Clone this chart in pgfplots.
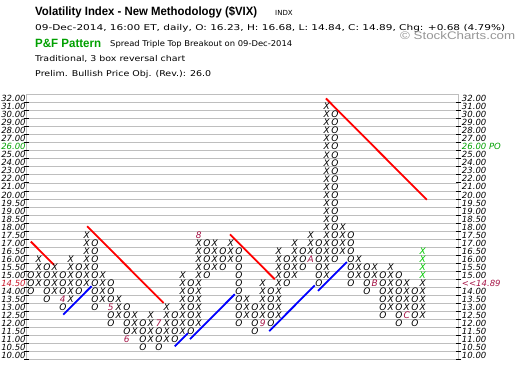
\documentclass[border=0pt]{standalone}
\usepackage{pgfplots}
\pgfplotsset{compat=1.18}
\usepackage{graphicx}
\usepackage{fontspec}
\setmainfont{Liberation Sans}
\newfontfamily\dv{DejaVu Sans}[ItalicFont={DejaVu Sans Oblique}, BoldFont={DejaVu Sans Bold}, BoldItalicFont={DejaVu Sans Bold Oblique}]
\definecolor{gridc}{RGB}{190,190,190}
\definecolor{pfgreen}{RGB}{0,160,0}
\definecolor{xgreen}{RGB}{0,200,0}
\definecolor{month}{RGB}{165,20,70}
\definecolor{lblred}{RGB}{200,20,40}
\definecolor{cgray}{RGB}{150,150,150}
\newcommand\xofont{\dv\itshape\fontsize{9}{10}\selectfont}
\newcommand\lblfont{\dv\itshape\fontsize{8.5}{9}\selectfont}
\newcommand\mlabel[3]{\addplot[only marks, mark=text, text mark={#3}, text mark as node=true, mark options={month}, text mark style={font=\xofont, inner sep=0pt, text=month}] coordinates {(#1,#2)};}
\begin{document}
\begin{tikzpicture}[x=1pt,y=1pt]
\path[use as bounding box] (0,0) rectangle (520,378);
% header
\node[anchor=base west, inner sep=0] at (35,362.5) {\resizebox{222pt}{\height}{\fontsize{12}{14}\selectfont\bfseries Volatility Index - New Methodology (\$VIX)}};
\node[anchor=base west, inner sep=0] at (275,362.5) {\dv\fontsize{7}{8}\selectfont INDX};
\node[anchor=base west, inner sep=0] at (35,347.5) {\resizebox{470pt}{\height}{\dv\fontsize{8}{9}\selectfont 09-Dec-2014, 16:00 ET, daily, O: 16.23, H: 16.68, L: 14.84, C: 14.89, Chg: +0.68 (4.79\%)}};
\node[anchor=base west, inner sep=0] at (35,330.5) {\resizebox{66pt}{\height}{\color{pfgreen}\fontsize{12}{14}\selectfont\bfseries P\&F Pattern}};
\node[anchor=base west, inner sep=0] at (110,331) {\resizebox{182pt}{\height}{\dv\fontsize{8}{9}\selectfont Spread Triple Top Breakout on 09-Dec-2014}};
\node[anchor=base west, inner sep=0] at (35,316) {\resizebox{150pt}{\height}{\dv\fontsize{8}{9}\selectfont Traditional, 3 box reversal chart}};
\node[anchor=base west, inner sep=0] at (35,301) {\resizebox{176pt}{\height}{\dv\fontsize{8}{9}\selectfont Prelim. Bullish Price Obj. (Rev.): 26.0}};
\node[anchor=base west, inner sep=0] at (400,338) {\resizebox{115pt}{\height}{\color{cgray}\fontsize{11}{13}\selectfont \textcopyright\ StockCharts.com}};

\begin{axis}[
  at={(33.5,22.8)}, anchor=south west, scale only axis,
  width=432pt, height=265.2pt,
  xmin=-0.5, xmax=53.5, ymin=-0.5, ymax=32.5,
  axis line style={gridc, line width=0.7pt},
  xtick=\empty,
  ytick={0,...,32},
  yticklabels={10.00,10.50,11.00,11.50,12.00,12.50,13.00,13.50,14.00,{\textcolor{lblred}{14.50}},15.00,15.50,16.00,16.50,17.00,17.50,18.00,18.50,19.00,19.50,20.00,21.00,22.00,23.00,24.00,25.00,{\textcolor{pfgreen}{26.00}},27.00,28.00,29.00,30.00,31.00,32.00},
  yticklabel style={font=\lblfont, inner sep=1pt},
  major tick length=0pt,
  minor xtick={-0.5,0.5,...,53.5},
  minor ytick={-0.5,0.5,...,32.5},
  xminorgrids, yminorgrids,
  minor grid style={gridc, line width=0.7pt},
  minor tick length=0pt,
  extra y ticks={-0.5,0.5,...,31.5},
  extra y tick labels={},
  extra y tick style={major tick length=5pt, tick align=center, tick style={black, line width=0.8pt}, yminorgrids=false, ymajorgrids=false},
  clip=false,
]
% trend lines
\addplot[red, line width=1.8pt] coordinates {(0,14.2) (2.9,11.3)};
\addplot[red, line width=1.8pt] coordinates {(7.05,16.1) (16.6,6.55)};
\addplot[red, line width=1.8pt] coordinates {(24.9,15.1) (30.5,9.5)};
\addplot[red, line width=1.8pt] coordinates {(36.9,32.0) (49.5,19.4)};
\addplot[blue, line width=1.8pt] coordinates {(4.05,5.1) (7.6,8.65)};
\addplot[blue, line width=1.8pt] coordinates {(18.0,1.15) (19.65,2.8)};
\addplot[blue, line width=1.8pt] coordinates {(19.9,2.05) (25.5,7.65)};
\addplot[blue, line width=1.8pt] coordinates {(29.8,3.05) (35.5,8.75)};
\addplot[blue, line width=1.8pt] coordinates {(35.9,8.05) (39.5,11.65)};
% X columns
\addplot[only marks, mark=text, text mark={X}, text mark as node=true, mark options={black}, text mark style={font=\xofont, inner sep=0pt}] coordinates {
(1,9)(1,10)(1,11)(1,12)
(3,8)(3,9)(3,10)(3,11)
(5,7)(5,8)(5,9)(5,10)(5,11)(5,12)
(7,9)(7,10)(7,11)(7,12)(7,13)(7,14)(7,15)
(9,7)(9,8)(9,9)(9,10)
(11,5)(11,6)(11,7)
(13,3)(13,4)(13,5)
(15,2)(15,3)(15,4)(15,5)
(17,2)(17,3)(17,4)(17,5)(17,6)
(19,3)(19,4)(19,5)(19,6)(19,7)(19,8)(19,9)(19,10)
(21,4)(21,5)(21,6)(21,7)(21,8)(21,9)(21,10)(21,11)(21,12)(21,13)(21,14)
(23,11)(23,12)(23,13)(23,14)
(25,12)(25,13)(25,14)
(27,5)(27,6)(27,7)
(29,5)(29,6)(29,7)(29,8)(29,9)
(31,5)(31,6)(31,7)(31,8)(31,9)(31,10)(31,11)(31,12)(31,13)
(33,10)(33,11)(33,12)(33,13)(33,14)
(35,13)(35,14)(35,15)
(37,10)(37,11)(37,12)(37,13)(37,14)(37,15)(37,16)(37,17)(37,18)(37,19)(37,20)(37,21)(37,22)(37,23)(37,24)(37,25)(37,26)(37,27)(37,28)(37,29)(37,30)(37,31)
(39,13)(39,14)(39,15)(39,16)
(41,10)(41,11)(41,12)
(43,10)(43,11)
(45,6)(45,7)(45,8)(45,9)(45,10)(45,11)
(47,6)(47,7)(47,8)(47,9)
(49,5)(49,6)(49,7)(49,8)(49,9)
};
% green X
\addplot[only marks, mark=text, text mark={X}, text mark as node=true, mark options={xgreen}, text mark style={font=\xofont, inner sep=0pt, text=xgreen}] coordinates {
(49,10)(49,11)(49,12)(49,13)
};
% O columns
\addplot[only marks, mark=text, text mark={O}, text mark as node=true, mark options={black}, text mark style={font=\xofont, inner sep=0pt}] coordinates {
(0,8)(0,9)(0,10)
(2,7)(2,8)(2,9)(2,10)(2,11)
(4,6)(4,8)(4,9)(4,10)
(6,8)(6,9)(6,10)(6,11)
(8,6)(8,7)(8,8)(8,9)(8,10)(8,11)(8,12)(8,13)(8,14)
(10,4)(10,5)(10,7)(10,8)(10,9)
(12,3)(12,4)(12,5)(12,6)
(14,1)(14,2)(14,3)(14,4)
(16,1)(16,2)(16,3)
(18,2)(18,3)(18,4)(18,5)
(20,3)(20,4)(20,5)(20,6)(20,7)(20,8)(20,9)
(22,10)(22,11)(22,12)(22,13)(22,14)
(24,11)(24,12)(24,13)
(26,4)(26,5)(26,6)(26,7)(26,8)(26,9)(26,10)(26,11)(26,12)(26,13)
(28,3)(28,4)(28,5)(28,6)
(30,4)(30,5)(30,6)(30,7)(30,8)
(32,9)(32,10)(32,11)(32,12)
(34,11)(34,12)(34,13)
(36,9)(36,10)(36,11)(36,12)(36,13)(36,14)
(38,12)(38,13)(38,14)(38,15)(38,16)(38,17)(38,18)(38,19)(38,20)(38,21)(38,22)(38,23)(38,24)(38,25)(38,26)(38,27)(38,28)(38,29)(38,30)
(40,9)(40,10)(40,11)(40,12)(40,13)(40,14)(40,15)
(42,8)(42,9)(42,10)(42,11)
(44,5)(44,6)(44,7)(44,8)(44,9)(44,10)
(46,4)(46,5)(46,6)(46,7)(46,8)(46,9)(46,10)
(48,4)(48,5)(48,6)(48,7)(48,8)
};
% month markers
\mlabel{4}{7}{4}
\mlabel{10}{6}{5}
\mlabel{12}{2}{6}
\mlabel{16}{4}{7}
\mlabel{21}{15}{8}
\mlabel{29}{4}{9}
\mlabel{35}{12}{A}
\mlabel{43}{9}{B}
\mlabel{47}{5}{C}
\end{axis}
\begin{axis}[
  at={(33.5,22.8)}, anchor=south west, scale only axis,
  width=432pt, height=265.2pt,
  xmin=-0.5, xmax=53.5, ymin=-0.5, ymax=32.5,
  hide x axis, axis y line*=right,
  y axis line style={draw=none},
  major tick length=0pt,
  ytick={0,...,32},
  yticklabels={10.00,10.50,11.00,11.50,12.00,12.50,13.00,13.50,14.00,{\textcolor{month}{<\kern0pt<14.89}},15.00,15.50,16.00,16.50,17.00,17.50,18.00,18.50,19.00,19.50,20.00,21.00,22.00,23.00,24.00,25.00,{\textcolor{pfgreen}{26.00 PO}},27.00,28.00,29.00,30.00,31.00,32.00},
  yticklabel style={font=\lblfont, inner sep=1pt, xshift=2pt},
]
\addplot[draw=none] coordinates {(0,0)};
\end{axis}
\end{tikzpicture}
\end{document}
